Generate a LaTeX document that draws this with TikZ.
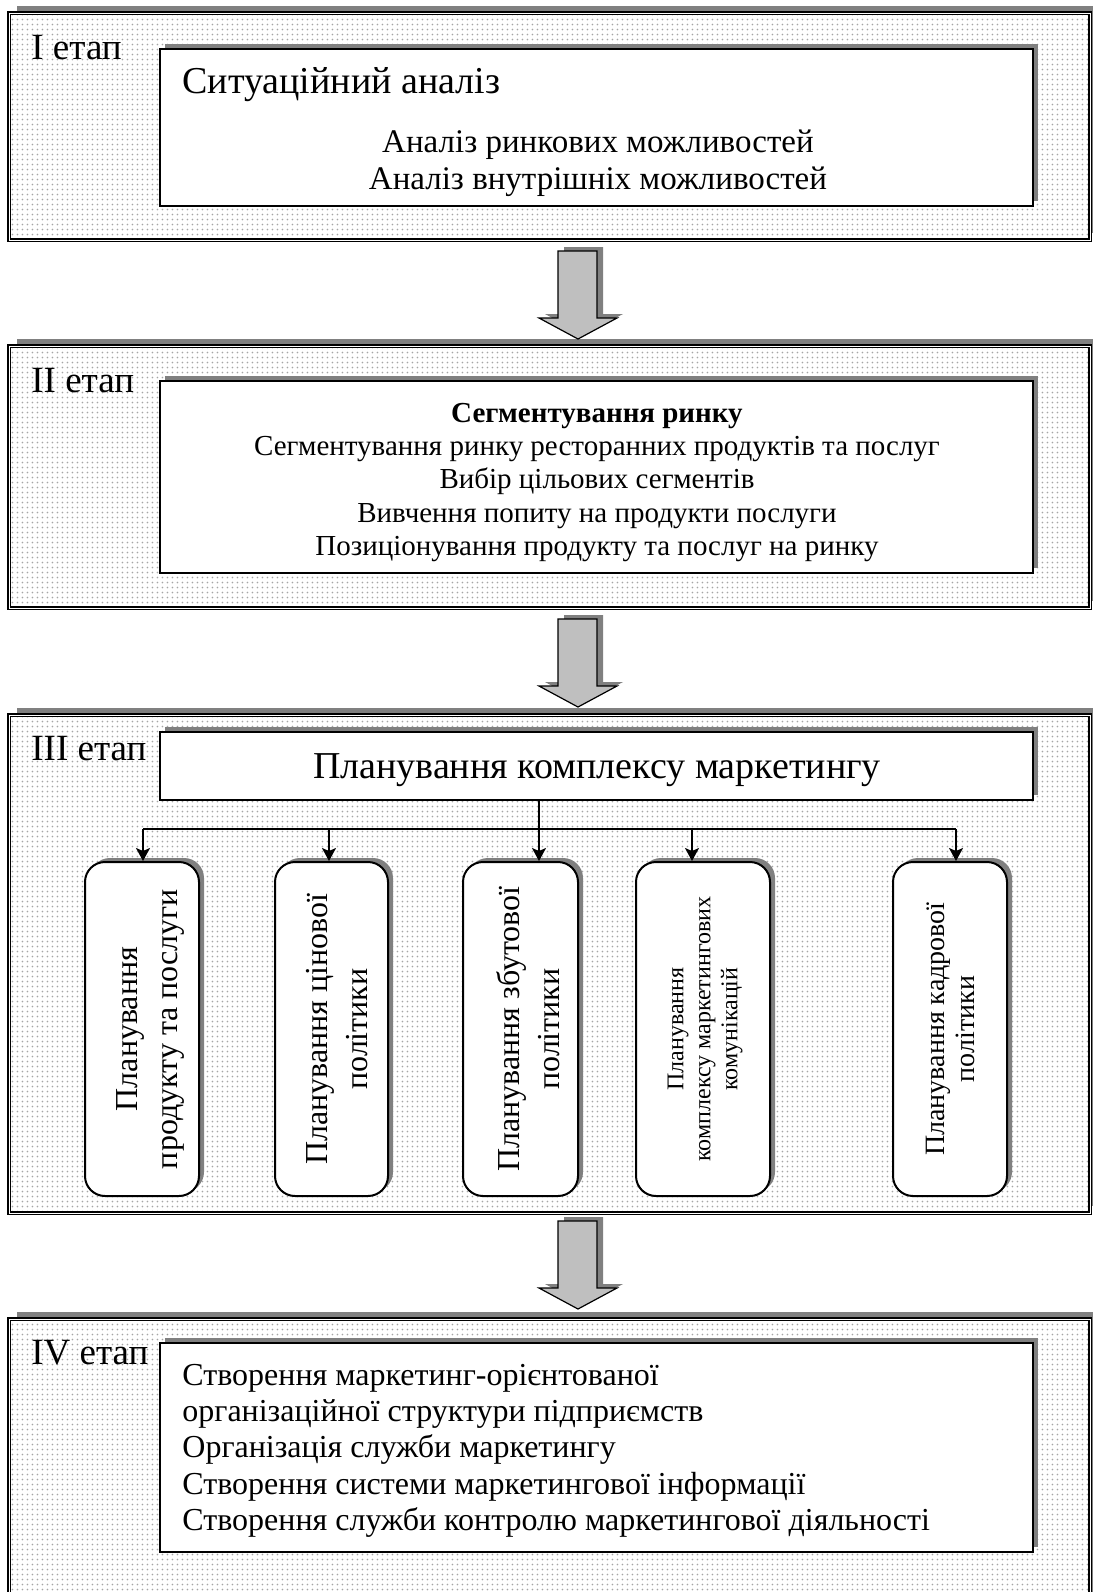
\documentclass[tikz,border=0pt]{standalone}
\usepackage{fontspec}
\setmainfont{Liberation Serif}
\usetikzlibrary{arrows.meta}
\usetikzlibrary{shadows}
\usetikzlibrary{patterns.meta}

\tikzdeclarepattern{
  name=stagedots,
  type=uncolored,
  bounding box={(0pt,0pt) and (2.7pt,2.7pt)},
  tile size={(2.7pt,2.7pt)},
  code={\fill (1.35pt,1.35pt) circle (0.5pt);}
}

\begin{document}
\begin{tikzpicture}[x=0.5pt,y=-0.5pt,
  stageframe/.style={drop shadow={shadow xshift=4pt,shadow yshift=3.5pt,fill=black!50,opacity=1},
    preaction={fill=white},pattern={stagedots},pattern color=black!35,
    draw=black,line width=0.7pt,double=white,double distance=0.5pt},
  panel/.style={draw=black,line width=1pt,fill=white,inner sep=0pt,
    drop shadow={shadow xshift=2.5pt,shadow yshift=2.5pt,fill=black!50,opacity=1}},
  policy/.style={draw=black,line width=1pt,fill=white,rounded corners=10pt,inner sep=0pt,
    minimum height=167pt,drop shadow={shadow xshift=2.5pt,shadow yshift=2pt,fill=black!50,opacity=1}},
  bigarrow/.style={fill=black!25,draw=black,line width=0.6pt,line join=miter,
    drop shadow={shadow xshift=3pt,shadow yshift=2pt,fill=black!50,opacity=1}},
  feed/.style={line width=0.8pt,-{Stealth[length=6.5pt,width=7pt,inset=1.5pt]}},
  stagelbl/.style={anchor=base west,inner sep=0pt,font=\fontsize{18.5}{22}\selectfont},
  bigline/.style={inner sep=0pt,font=\fontsize{19}{22}\selectfont},
  sitline/.style={anchor=base,inner sep=0pt,font=\fontsize{16.5}{19}\selectfont},
  segline/.style={anchor=base,inner sep=0pt,font=\fontsize{14.5}{17}\selectfont},
  orgline/.style={anchor=base west,inner sep=0pt,font=\fontsize{16}{18}\selectfont},
  vlbl/.style={rotate=90,align=center,inner sep=0pt,font=\fontsize{16}{20}\selectfont}]

\useasboundingbox (0,0) rectangle (1093,1592);
\clip (0,0) rectangle (1093,1592);

% stage frames
\path[stageframe] (9,13) rectangle (1090,240);
\path[stageframe] (9,346) rectangle (1090,608);
\path[stageframe] (9,715) rectangle (1090,1213);
\path[stageframe] (9,1319) rectangle (1090,1640);

\node[stagelbl] (lbI) at (31,59) {I етап};
\node[stagelbl] (lbII) at (31,392) {II етап};
\node[stagelbl] (lbIII) at (31,760) {III етап};
\node[stagelbl] (lbIV) at (31,1364) {IV етап};

% stage I
\node[panel,minimum width=436.5pt,minimum height=78.5pt] (sit) at (596.5,127.5) {};
\node[bigline,anchor=base west] (sitT) at (182,93) {Ситуаційний аналіз};
\node[sitline] (sit1) at (598,152) {Аналіз ринкових можливостей};
\node[sitline] (sit2) at (598,189) {Аналіз внутрішніх можливостей};

% stage II
\node[panel,minimum width=436.5pt,minimum height=96pt] (seg) at (596.5,477) {};
\node[segline,font=\fontsize{14.5}{17}\selectfont\bfseries] (segT) at (597,422) {Сегментування ринку};
\foreach \n/\yy/\t in {1/455/Сегментування ринку ресторанних продуктів та послуг,
  2/488/Вибір цільових сегментів,
  3/522/Вивчення попиту на продукти послуги,
  4/555/Позиціонування продукту та послуг на ринку}
  \node[segline] (seg\n) at (597,\yy) {\t};

% stage III
\node[panel,minimum width=436.5pt,minimum height=34pt] (plan) at (596.5,766) {};
\node[bigline,anchor=base] (planT) at (597,778) {Планування комплексу маркетингу};

\node[policy,minimum width=57pt] (pr1) at (142,1029) {};
\node[policy,minimum width=56.5pt] (pr2) at (331.5,1029) {};
\node[policy,minimum width=57.5pt] (pr3) at (520.5,1029) {};
\node[policy,minimum width=67pt] (pr4) at (703,1029) {};
\node[policy,minimum width=57pt] (pr5) at (950,1029) {};

\node[vlbl] (pr1t) at ([xshift=4pt]pr1.center) {Планування\\продукту та послуги};
\node[vlbl] (pr2t) at ([xshift=3pt]pr2.center) {Планування цінової\\політики};
\node[vlbl] (pr3t) at ([xshift=4pt]pr3.center) {Планування збутової\\політики};
\node[vlbl,font=\fontsize{12}{13.5}\selectfont] (pr4t) at ([xshift=1pt]pr4.center) {Планування\\комплексу маркетингових\\комунікацій};
\node[vlbl,font=\fontsize{14}{15}\selectfont] (pr5t) at (pr5.center) {Планування кадрової\\політики};

\coordinate (b1) at (143,829);
\coordinate (b2) at (329,829);
\coordinate (b3) at (539,829);
\coordinate (b4) at (692,829);
\coordinate (b5) at (956,829);
\draw[line width=0.8pt] (b1) -- (b5);
\draw[line width=0.8pt] (b3 |- plan.south) -- (b3);
\foreach \i in {1,...,5}
  \draw[feed] (b\i) -- (b\i |- pr\i.north);

% stage IV
\node[panel,minimum width=436.5pt,minimum height=104.5pt] (org) at (596.5,1447.5) {};
\foreach \n/\yy/\t in {1/1385/Створення маркетинг-орієнтованої,
  2/1421/організаційної структури підприємств,
  3/1457/Організація служби маркетингу,
  4/1494/Створення системи маркетингової інформації,
  5/1530/Створення служби контролю маркетингової діяльності}
  \node[orgline] (org\n) at (182,\yy) {\t};

% arrows between stages
\foreach \t in {251,619,1221}
  \draw[bigarrow] (558,\t) -- (597,\t) -- (597,\t+67) -- (617,\t+67) -- (578,\t+88)
    -- (539,\t+67) -- (558,\t+67) -- cycle;
\end{tikzpicture}
\end{document}
